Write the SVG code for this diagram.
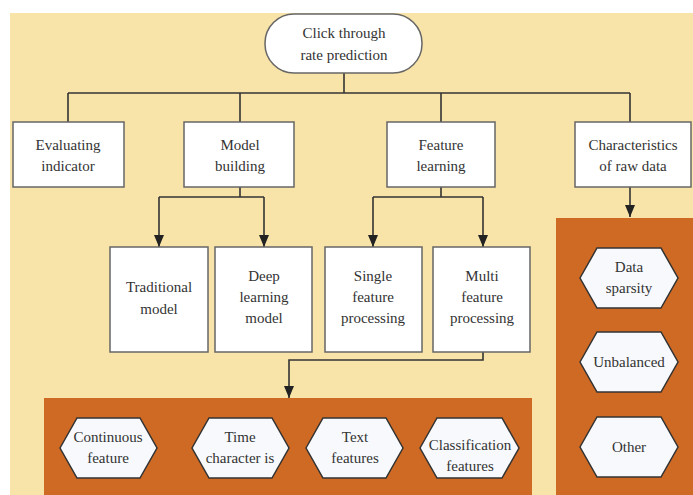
<svg xmlns="http://www.w3.org/2000/svg" width="693" height="495" viewBox="0 0 693 495">
<defs>
<marker id="arr" viewBox="0 0 12 10" refX="12" refY="5" markerWidth="12" markerHeight="10" markerUnits="userSpaceOnUse" orient="auto">
<path d="M0,0 L12,5 L0,10 Z" fill="#222"/>
</marker>
<style>
.t{font-family:"Liberation Serif","Times New Roman",serif;font-size:15px;fill:#333;text-anchor:middle}
.box{fill:#fff;stroke:#666;stroke-width:1.5}
.hex{fill:#f7f9fc;stroke:#333;stroke-width:1.5}
.panel{fill:#cf6a24}
.c{fill:none;stroke:#333;stroke-width:1.6}
.ca{fill:none;stroke:#333;stroke-width:1.6;marker-end:url(#arr)}
</style>
</defs>
<rect x="0" y="0" width="693" height="495" fill="#ffffff"/>
<rect x="10" y="13" width="683" height="482" fill="#f8e4a8"/>
<rect class="panel" x="44" y="398" width="488" height="97"/>
<rect class="panel" x="556" y="218" width="137" height="277"/>

<g id="connectors">
<path class="c" d="M344,73 V93 M68,93 H630 M68,93 V122 M240,93 V122 M441,93 V122 M630,93 V122"/>
<path class="c" d="M240,187 V197 M159,197 H264"/>
<path class="ca" d="M159,197 V247"/>
<path class="ca" d="M264,197 V247"/>
<path class="c" d="M441,187 V197 M373,197 H483"/>
<path class="ca" d="M373,197 V247"/>
<path class="ca" d="M483,197 V247"/>
<path class="ca" d="M630,187 V217"/>
<path class="ca" d="M483,352 V360 H289 V398"/>
</g>

<g id="root">
<rect x="265" y="14" width="157" height="59" rx="29" ry="29" class="box" stroke="#444"/>
<text class="t" x="344" y="38">Click through</text>
<text class="t" x="344" y="60">rate prediction</text>
</g>

<g id="evaluating">
<rect class="box" x="13" y="122" width="111" height="65"/>
<text class="t" x="68" y="150">Evaluating</text>
<text class="t" x="68" y="171">indicator</text>
</g>
<g id="model-building">
<rect class="box" x="184" y="122" width="110" height="65"/>
<text class="t" x="240" y="150">Model</text>
<text class="t" x="240" y="171">building</text>
</g>
<g id="feature-learning">
<rect class="box" x="387" y="122" width="108" height="65"/>
<text class="t" x="441" y="150">Feature</text>
<text class="t" x="441" y="171">learning</text>
</g>
<g id="characteristics">
<rect class="box" x="575" y="122" width="116" height="65"/>
<text class="t" x="633" y="150">Characteristics</text>
<text class="t" x="633" y="171">of raw data</text>
</g>

<g id="traditional">
<rect class="box" x="110" y="247" width="98" height="105"/>
<text class="t" x="159" y="292">Traditional</text>
<text class="t" x="159" y="314">model</text>
</g>
<g id="deep">
<rect class="box" x="215" y="247" width="97" height="105"/>
<text class="t" x="264" y="281">Deep</text>
<text class="t" x="264" y="302">learning</text>
<text class="t" x="264" y="323">model</text>
</g>
<g id="single">
<rect class="box" x="325" y="247" width="97" height="105"/>
<text class="t" x="373" y="281">Single</text>
<text class="t" x="373" y="302">feature</text>
<text class="t" x="373" y="323">processing</text>
</g>
<g id="multi">
<rect class="box" x="433" y="247" width="97" height="105"/>
<text class="t" x="482" y="281">Multi</text>
<text class="t" x="482" y="302">feature</text>
<text class="t" x="482" y="323">processing</text>
</g>

<g id="data-sparsity">
<polygon class="hex" points="580,278 597,248 661,248 678,278 661,308 597,308"/>
<text class="t" x="629" y="272">Data</text>
<text class="t" x="629" y="293">sparsity</text>
</g>
<g id="unbalanced">
<polygon class="hex" points="580,362 597,332 661,332 678,362 661,392 597,392"/>
<text class="t" x="629" y="367">Unbalanced</text>
</g>
<g id="other">
<polygon class="hex" points="580,447 597,417 661,417 678,447 661,477 597,477"/>
<text class="t" x="629" y="452">Other</text>
</g>

<g id="continuous">
<polygon class="hex" points="60,448 77,418 140,418 157,448 140,478 77,478"/>
<text class="t" x="108" y="442">Continuous</text>
<text class="t" x="108" y="463">feature</text>
</g>
<g id="time">
<polygon class="hex" points="192,448 209,418 272,418 289,448 272,478 209,478"/>
<text class="t" x="240" y="442">Time</text>
<text class="t" x="240" y="463">character is</text>
</g>
<g id="text-features">
<polygon class="hex" points="306,448 323,418 386,418 403,448 386,478 323,478"/>
<text class="t" x="355" y="442">Text</text>
<text class="t" x="355" y="463">features</text>
</g>
<g id="classification">
<polygon class="hex" points="420,448 437,418 502,418 519,448 502,478 437,478"/>
<text class="t" x="470" y="450">Classification</text>
<text class="t" x="470" y="471">features</text>
</g>
</svg>
